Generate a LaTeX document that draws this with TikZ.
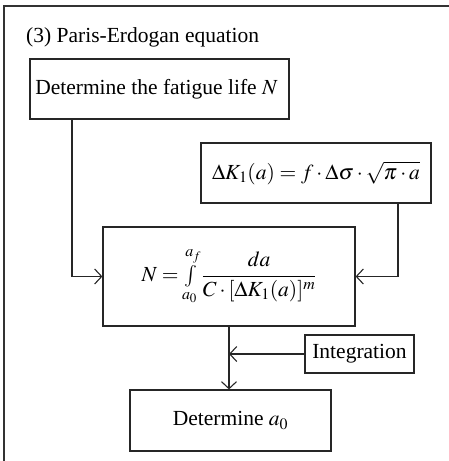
\documentclass[tikz,border=0pt]{standalone}
\usepackage{mathptmx}
\usepackage[no-math]{fontspec}
\setmainfont{Liberation Serif}
\usetikzlibrary{arrows.meta}
\begin{document}
\begin{tikzpicture}[x=1pt,y=-1pt,
  every node/.style={font=\fontsize{21.5}{25}\selectfont, text=black},
  box/.style={draw=black!85, line width=1.2pt, inner sep=0pt},
  conn/.style={draw=black!85, line width=1.1pt, -{Straight Barb[length=7pt,width=15pt,line width=1.1pt]}}]
\useasboundingbox (0,0) rectangle (449,461);
% outer frame (cropped)
\draw[draw=black!80, line width=1.4pt] (4,461) -- (4,6) -- (449,6);
\node[anchor=base west, inner sep=0pt] (title) at (26,42) {(3) Paris-Erdogan equation};
\node[box, minimum width=259pt, minimum height=60pt] (b1) at (159.5,89) {\hspace*{-6pt}Determine the fatigue life $N$};
\node[box, minimum width=230pt, minimum height=60pt] (b2) at (316,173) {$\Delta K_1(a) = f\cdot\Delta\sigma\cdot\sqrt{\pi\cdot a}$};
\node[box, minimum width=252pt, minimum height=99pt] (b3) at (229,276.5) {$N = {\textstyle\int\limits_{a_0}^{a_f}}\,{\displaystyle\frac{da}{C\cdot[\Delta K_1(a)]^m}}$};
\node[box, minimum width=109pt, minimum height=38pt] (b5) at (359.5,354) {Integration};
\node[box, minimum width=201pt, minimum height=61pt] (b4) at (230.5,420.5) {Determine $a_0$};
\coordinate (c1) at (72,0);
\coordinate (c2) at (398,0);
\draw[conn] (b1.south -| c1) |- (b3.west);
\draw[conn] (b2.south -| c2) |- (b3.east);
\draw[conn] (b3.south) -- (b3.south |- b4.north);
\draw[conn] (b5.west) -- (b5.west -| b3.south);
\end{tikzpicture}
\end{document}
